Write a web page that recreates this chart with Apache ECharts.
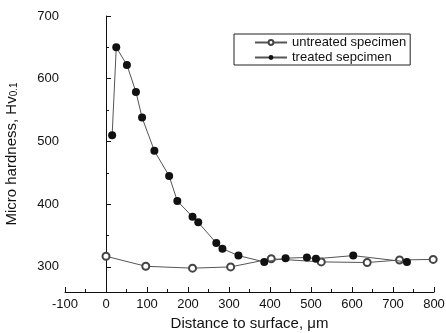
<!DOCTYPE html>
<html>
<head>
<meta charset="utf-8">
<script src="https://cdn.jsdelivr.net/npm/echarts@6/dist/echarts.min.js"></script>
<style>
html,body{margin:0;padding:0;background:#fff;}
#c{width:446px;height:333px;}
</style>
</head>
<body>
<div id="c"></div>
<script>
// Data
const untreatedX = [0, 97, 211, 304, 403, 525, 637, 716, 798];
const untreatedY = [317, 301, 298, 300, 313, 308, 307, 311, 312];
const treatedX = [15, 25, 51, 73, 88, 118, 154, 174, 211, 225, 269, 284, 323, 386, 438, 490, 512, 603, 734];
const treatedY = [510, 650, 622, 579, 538, 485, 445, 405, 380, 371, 338, 329, 318, 308, 314, 315, 313, 318, 308];
const seriesNames = ['untreated specimen', 'treated sepcimen'];
const xName = 'Distance to surface, \u03bcm';

const font = 'Liberation Sans, Arial, sans-serif';
const pair = (xs, ys) => xs.map((x, i) => [x, ys[i]]);

const chart = echarts.init(document.getElementById('c'), null, {renderer: 'canvas'});
chart.setOption({
  animation: false,
  backgroundColor: '#fff',
  textStyle: {fontFamily: font},
  grid: {left: 65, right: 12, top: 16, bottom: 41, containLabel: false, outerBoundsMode: 'none'},
  legend: {
    orient: 'vertical',
    left: 234, top: 34,
    padding: [2, 4, 1, 20],
    itemGap: 2,
    itemWidth: 32, itemHeight: 6,
    borderColor: '#222', borderWidth: 1,
    textStyle: {fontFamily: font, fontSize: 13, color: '#111'},
    data: seriesNames
  },
  xAxis: {
    type: 'value', min: -100, max: 800, interval: 100,
    name: xName, nameLocation: 'middle', nameGap: 24,
    nameTextStyle: {fontFamily: font, fontSize: 15, color: '#111'},
    axisLine: {show: true, lineStyle: {color: '#111', width: 1}},
    axisTick: {show: true, inside: true, length: 5, lineStyle: {color: '#111', width: 1}},
    minorTick: {show: true, splitNumber: 2, length: 3, lineStyle: {color: '#111', width: 1}},
    axisLabel: {fontFamily: font, fontSize: 13, color: '#111', margin: 6},
    splitLine: {show: false}
  },
  yAxis: {
    type: 'value', min: 260, max: 700, splitNumber: 5,
    name: '{a|Micro hardness, Hv}{b|0.1}', nameLocation: 'middle', nameGap: 46,
    nameTextStyle: {
      fontFamily: font, fontSize: 15, color: '#111',
      rich: {
        a: {fontFamily: font, fontSize: 15, color: '#111', lineHeight: 15, verticalAlign: 'top'},
        b: {fontFamily: font, fontSize: 10, color: '#111', lineHeight: 10, verticalAlign: 'bottom', padding: [8, 0, 0, 0]}
      }
    },
    axisLine: {show: true, lineStyle: {color: '#111', width: 1}},
    axisTick: {show: true, inside: true, length: 5, lineStyle: {color: '#111', width: 1}},
    minorTick: {show: true, splitNumber: 2, length: 3, lineStyle: {color: '#111', width: 1}},
    axisLabel: {
      fontFamily: font, fontSize: 13, color: '#111', margin: 6,
      formatter: v => (v % 100 === 0 ? String(v) : '')
    },
    splitLine: {show: false}
  },
  series: [
    {
      name: seriesNames[0], type: 'line',
      data: pair(untreatedX, untreatedY),
      symbol: 'emptyCircle', symbolSize: 7,
      lineStyle: {color: '#555', width: 1},
      itemStyle: {color: '#444', borderColor: '#444', borderWidth: 1},
      z: 2
    },
    {
      name: seriesNames[1], type: 'line',
      data: pair(treatedX, treatedY),
      symbol: 'circle', symbolSize: 8,
      lineStyle: {color: '#555', width: 1},
      itemStyle: {color: '#111'},
      z: 3
    }
  ]
});
</script>
</body>
</html>
